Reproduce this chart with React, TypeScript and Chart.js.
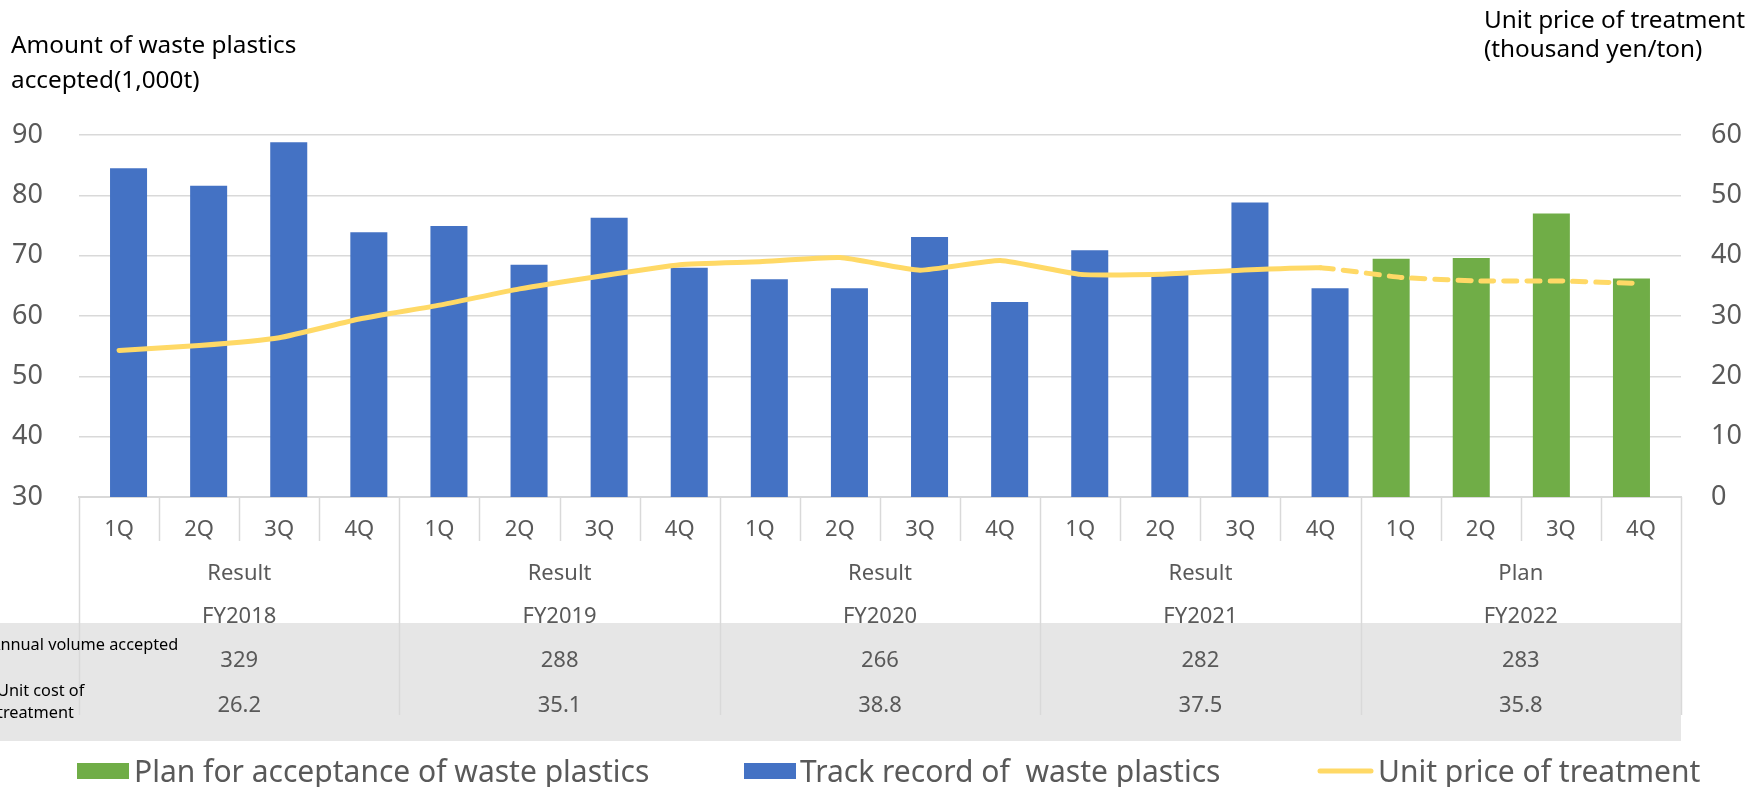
import React, { useEffect, useRef } from 'react';
import { Chart, registerables } from 'chart.js';

Chart.register(...registerables);

// ---- data ----
const quarters = ['1Q', '2Q', '3Q', '4Q', '1Q', '2Q', '3Q', '4Q', '1Q', '2Q', '3Q', '4Q', '1Q', '2Q', '3Q', '4Q', '1Q', '2Q', '3Q', '4Q'];
const trackRecord = [84.5, 81.6, 88.8, 73.9, 74.9, 68.5, 76.3, 68.0, 66.1, 64.6, 73.1, 62.3, 70.9, 66.8, 78.8, 64.6, null, null, null, null];
const planAcceptance = [null, null, null, null, null, null, null, null, null, null, null, null, null, null, null, null, 69.5, 69.6, 77.0, 66.2];
const unitPrice = [24.3, 25.1, 26.4, 29.5, 31.8, 34.5, 36.6, 38.5, 39.0, 39.7, 37.6, 39.2, 36.9, 36.9, 37.6, 38.0, 36.4, 35.8, 35.8, 35.4];
const planStartIndex = 15; // line is dashed from the last result quarter on
const phases = ['Result', 'Result', 'Result', 'Result', 'Plan'];
const fiscalYears = ['FY2018', 'FY2019', 'FY2020', 'FY2021', 'FY2022'];
const annualVolume = ['329', '288', '266', '282', '283'];
const unitCost = ['26.2', '35.1', '38.8', '37.5', '35.8'];

const leftTitle = ['Amount of waste plastics', 'accepted(1,000t)'];
const rightTitle = ['Unit price of treatment', '(thousand yen/ton)'];
const rowLabels = ['Annual volume accepted', 'Unit cost of', 'treatment'];
const legendLabels = ['Plan for acceptance of waste plastics', 'Track record of  waste plastics', 'Unit price of treatment'];

const BLUE = '#4472C4';
const GREEN = '#70AD47';
const YELLOW = '#FFD966';
const GRID = '#D9D9D9';
const TEXT = '#595959';
const FONT = '"Noto Sans", "Open Sans", sans-serif';

const tablePlugin = {
  id: 'tableAndTitles',
  afterDraw(chart: any) {
    const { ctx } = chart;
    const x = chart.scales.x;
    const axisY = chart.chartArea.bottom;
    const n = quarters.length;
    const catW = x.getPixelForValue(1) - x.getPixelForValue(0);
    const left = x.getPixelForValue(0) - catW / 2;
    const right = x.getPixelForValue(n - 1) + catW / 2;
    ctx.save();

    // grey band of the data table
    ctx.fillStyle = '#E6E6E6';
    ctx.fillRect(0, axisY + 126, right, 118);

    // separators
    ctx.strokeStyle = GRID;
    ctx.lineWidth = 1.5;
    for (let k = 0; k <= n; k++) {
      const bx = Math.round(left + k * catW) + 0.5;
      const len = k % 4 === 0 ? 218 : 44;
      ctx.beginPath();
      ctx.moveTo(bx, axisY);
      ctx.lineTo(bx, axisY + len);
      ctx.stroke();
    }

    // group texts
    ctx.fillStyle = TEXT;
    ctx.font = `22px ${FONT}`;
    ctx.textAlign = 'center';
    ctx.textBaseline = 'alphabetic';
    for (let g = 0; g < fiscalYears.length; g++) {
      const cx = (x.getPixelForValue(g * 4) + x.getPixelForValue(g * 4 + 3)) / 2;
      ctx.fillText(phases[g], cx, axisY + 83);
      ctx.fillText(fiscalYears[g], cx, axisY + 126);
      ctx.fillText(annualVolume[g], cx, axisY + 170);
      ctx.fillText(unitCost[g], cx, axisY + 215);
    }

    // row labels (partly cut at the left edge as in the source)
    ctx.fillStyle = '#000';
    ctx.font = `16.3px ${FONT}`;
    ctx.textAlign = 'left';
    ctx.fillText(rowLabels[0], -10, axisY + 153);
    ctx.fillText(rowLabels[1], -3, axisY + 199);
    ctx.fillText(rowLabels[2], -3, axisY + 221);

    // axis titles
    ctx.font = `24.3px ${FONT}`;
    ctx.fillStyle = '#000';
    ctx.fillText(leftTitle[0], 11, 53);
    ctx.fillText(leftTitle[1], 11, 88);
    ctx.fillText(rightTitle[0], 1484, 28);
    ctx.fillText(rightTitle[1], 1484, 57);

    // legend
    const ly = 771;
    ctx.font = `30px ${FONT}`;
    ctx.fillStyle = GREEN;
    ctx.fillRect(77, ly - 8, 52, 16);
    ctx.fillStyle = BLUE;
    ctx.fillRect(744, ly - 8, 52, 16);
    ctx.strokeStyle = YELLOW;
    ctx.lineWidth = 5;
    ctx.lineCap = 'round';
    ctx.beginPath();
    ctx.moveTo(1320, ly);
    ctx.lineTo(1371, ly);
    ctx.stroke();
    ctx.fillStyle = TEXT;
    ctx.fillText(legendLabels[0], 134, 782);
    ctx.fillText(legendLabels[1], 800, 782);
    ctx.fillText(legendLabels[2], 1378, 782);

    ctx.restore();
  },
};

export default function App() {
  const ref = useRef<HTMLCanvasElement | null>(null);

  useEffect(() => {
    if (!ref.current) return;
    const chart = new Chart(ref.current, {
      type: 'bar',
      data: {
        labels: quarters,
        datasets: [
          {
            type: 'line',
            label: legendLabels[2],
            data: unitPrice,
            yAxisID: 'y1',
            borderColor: YELLOW,
            backgroundColor: YELLOW,
            borderWidth: 5,
            pointRadius: 0,
            tension: 0.15,
            borderCapStyle: 'round',
            borderJoinStyle: 'round',
            order: 0,
            segment: {
              borderDash: (c: any) => (c.p0DataIndex >= planStartIndex ? [13, 10] : undefined),
            },
          } as any,
          {
            type: 'bar',
            label: legendLabels[0],
            data: planAcceptance,
            yAxisID: 'y',
            backgroundColor: GREEN,
            categoryPercentage: 0.474,
            barPercentage: 1.95,
            order: 1,
          } as any,
          {
            type: 'bar',
            label: legendLabels[1],
            data: trackRecord,
            yAxisID: 'y',
            backgroundColor: BLUE,
            categoryPercentage: 0.474,
            barPercentage: 1.95,
            order: 1,
          } as any,
        ],
      },
      options: {
        responsive: false,
        animation: false,
        devicePixelRatio: 1,
        events: [],
        layout: { padding: { top: 135, left: 0, right: 0, bottom: 0 } },
        plugins: {
          legend: { display: false },
          tooltip: { enabled: false },
          title: { display: false },
        },
        scales: {
          x: {
            offset: true,
            grid: { display: false, drawTicks: false },
            border: { display: true, color: GRID, width: 2 },
            ticks: { color: TEXT, font: { family: FONT, size: 22 }, padding: 20, maxRotation: 0, autoSkip: false },
            afterFit: (s: any) => { s.height = 290; },
          },
          y: {
            position: 'left',
            min: 30,
            max: 90,
            ticks: { stepSize: 10, color: TEXT, font: { family: FONT, size: 27 }, padding: 36 },
            grid: { color: GRID, lineWidth: 1.5, drawTicks: false },
            border: { display: false },
            afterFit: (s: any) => { s.width = 79; },
          },
          y1: {
            position: 'right',
            min: 0,
            max: 60,
            ticks: { stepSize: 10, color: TEXT, font: { family: FONT, size: 27 }, padding: 30 },
            grid: { display: false, drawTicks: false },
            border: { display: false },
            afterFit: (s: any) => { s.width = 82; },
          },
        },
      } as any,
      plugins: [tablePlugin],
    });
    return () => chart.destroy();
  }, []);

  return (
    <div style={{ position: 'fixed', left: 0, top: 0, width: 1763, height: 787, background: '#fff', overflow: 'hidden' }}>
      <canvas ref={ref} width={1763} height={787} style={{ display: 'block', width: 1763, height: 787 }} />
    </div>
  );
}
